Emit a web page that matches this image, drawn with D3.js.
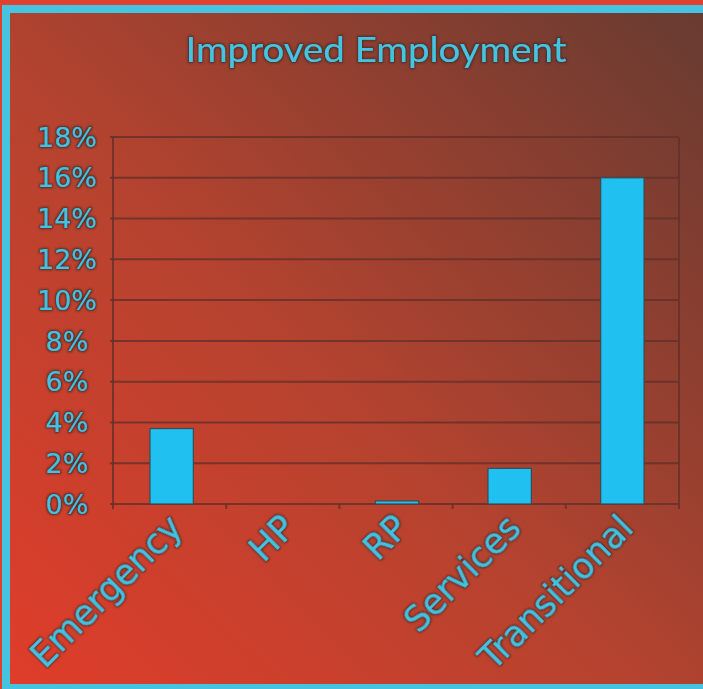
<!DOCTYPE html>
<html>
<head>
<meta charset="utf-8">
<script src="https://cdn.jsdelivr.net/npm/d3@7"></script>
<style>
  html, body { margin: 0; padding: 0; background: #e0402e; }
  svg { display: block; }
</style>
</head>
<body>
<svg id="chart"></svg>
<script>
const categories = ['Emergency', 'HP', 'RP', 'Services', 'Transitional']
const values = [3.7, 0, 0.15, 1.75, 16.0]
const yTicks = [0, 2, 4, 6, 8, 10, 12, 14, 16, 18]
const title = 'Improved Employment'

const W = 703, H = 689
const margin = {top: 137, right: 24, bottom: 185, left: 113}

const svg = d3.select('#chart').attr('width', W).attr('height', H)
const defs = svg.append('defs')

const grad = defs.append('linearGradient')
    .attr('id', 'bg')
    .attr('x1', 0).attr('y1', 1).attr('x2', 1).attr('y2', 0)
grad.append('stop').attr('offset', 0).attr('stop-color', '#df3d2a')
grad.append('stop').attr('offset', 0.45).attr('stop-color', '#b5432f')
grad.append('stop').attr('offset', 1).attr('stop-color', '#683b31')

// dark halo round the cyan text
const halo = defs.append('filter').attr('id', 'halo')
    .attr('x', '-10%').attr('y', '-20%').attr('width', '120%').attr('height', '140%')
halo.append('feMorphology').attr('in', 'SourceAlpha').attr('operator', 'dilate').attr('radius', 1.1).attr('result', 'd')
halo.append('feGaussianBlur').attr('in', 'd').attr('stdDeviation', 0.9).attr('result', 'b')
halo.append('feFlood').attr('flood-color', '#3b2a28').attr('flood-opacity', 0.85)
halo.append('feComposite').attr('in2', 'b').attr('operator', 'in').attr('result', 's')
const merge = halo.append('feMerge')
merge.append('feMergeNode').attr('in', 's')
merge.append('feMergeNode').attr('in', 'SourceGraphic')

// frame: red strip, cyan border, gradient panel
svg.append('rect').attr('width', W).attr('height', H).attr('fill', '#e0402e')
svg.append('rect').attr('x', 2).attr('y', 5).attr('width', W - 2).attr('height', H - 5).attr('fill', '#45c4e2')
svg.append('rect').attr('x', 10).attr('y', 13).attr('width', W - 10).attr('height', H - 13 - 5)
    .attr('fill', 'url(#bg)')

const x = d3.scaleBand()
    .domain(categories)
    .range([margin.left, 681])
    .paddingInner(0.615)
    .paddingOuter(0.328)

const y = d3.scaleLinear()
    .domain([0, 18])
    .range([504, margin.top])

const gridColor = '#63302a'
const plotRight = W - margin.right

// gridlines
svg.append('g').selectAll('line').data(yTicks).join('line')
    .attr('x1', margin.left - 3).attr('x2', plotRight)
    .attr('y1', d => y(d)).attr('y2', d => y(d))
    .attr('stroke', gridColor).attr('stroke-width', 2).attr('stroke-opacity', 0.8)

// left axis and right frame line
svg.append('g').selectAll('line').data([margin.left, plotRight]).join('line')
    .attr('x1', d => d).attr('x2', d => d)
    .attr('y1', y(18)).attr('y2', y(0))
    .attr('stroke', gridColor).attr('stroke-width', 2).attr('stroke-opacity', 0.8)

// category boundary ticks
const bounds = d3.range(categories.length + 1).map(i => margin.left + i * (plotRight - margin.left) / categories.length)
svg.append('g').selectAll('line').data(bounds).join('line')
    .attr('x1', d => d).attr('x2', d => d)
    .attr('y1', y(0)).attr('y2', y(0) + 5)
    .attr('stroke', gridColor).attr('stroke-width', 2).attr('stroke-opacity', 0.8)

// bars
svg.append('g').selectAll('rect').data(categories).join('rect')
    .attr('x', d => x(d))
    .attr('width', x.bandwidth())
    .attr('y', (d, i) => y(values[i]))
    .attr('height', (d, i) => y(0) - y(values[i]))
    .attr('fill', '#20c1f1')
    .attr('stroke', '#3c4a52')
    .attr('stroke-width', (d, i) => values[i] > 0 ? 1.2 : 0)

// y tick labels
svg.append('g').selectAll('text').data(yTicks).join('text')
    .attr('x', 67)
    .attr('y', d => y(d))
    .attr('dy', '0.36em')
    .attr('text-anchor', 'middle')
    .attr('font-family', 'DejaVu Sans, sans-serif')
    .attr('font-size', 27)
    .attr('fill', '#3fc2e2')
    .attr('filter', 'url(#halo)')
    .text(d => d + '%')

// x labels, rotated
svg.append('g').selectAll('text').data(categories).join('text')
    .attr('transform', d => `translate(${x(d) + x.bandwidth() / 2 + 13}, 530) rotate(-45)`)
    .attr('text-anchor', 'end')
    .attr('font-family', 'DejaVu Sans, sans-serif')
    .attr('font-size', 35)
    .attr('fill', '#3fc2e2')
    .attr('filter', 'url(#halo)')
    .text(d => d)

// title
svg.append('text')
    .attr('x', 376).attr('y', 62)
    .attr('text-anchor', 'middle')
    .attr('font-family', 'Lato, sans-serif')
    .attr('font-size', 34)
    .attr('textLength', 381)
    .attr('lengthAdjust', 'spacingAndGlyphs')
    .attr('fill', '#45c4e2')
    .attr('filter', 'url(#halo)')
    .text(title)
</script>
</body>
</html>
